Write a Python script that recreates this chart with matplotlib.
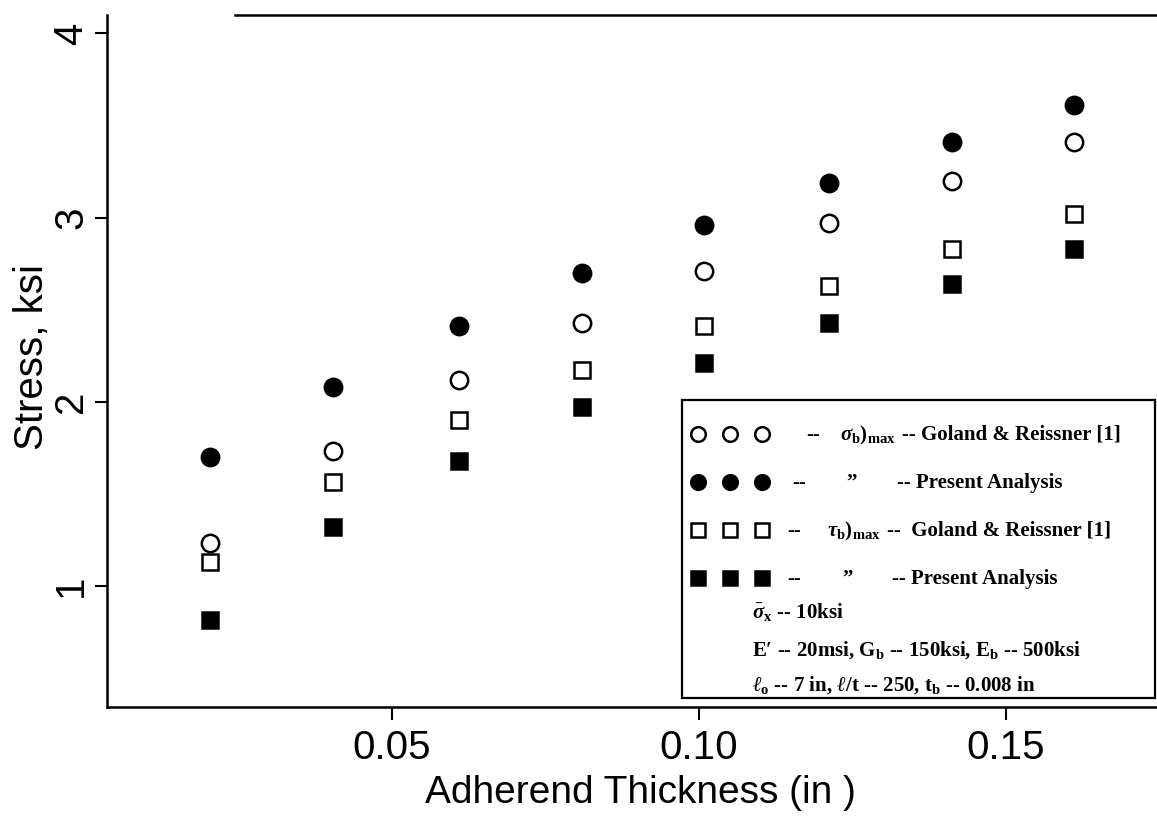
import matplotlib
matplotlib.use("Agg")
import matplotlib.pyplot as plt
from matplotlib.patches import Rectangle

# ---------------- data ----------------
thickness = [0.0204, 0.0404, 0.0609, 0.0809, 0.1008, 0.1212, 0.1412, 0.1611]
sigma_goland = [1.23, 1.73, 2.12, 2.43, 2.71, 2.97, 3.20, 3.41]      # open circles
sigma_present = [1.70, 2.08, 2.41, 2.70, 2.96, 3.19, 3.41, 3.61]     # filled circles
tau_goland = [1.13, 1.565, 1.90, 2.17, 2.41, 2.63, 2.83, 3.02]       # open squares
tau_present = [0.815, 1.32, 1.68, 1.97, 2.21, 2.43, 2.64, 2.83]      # filled squares

x_ticks = [0.05, 0.10, 0.15]
x_tick_labels = ["0.05", "0.10", "0.15"]
y_ticks = [1, 2, 3, 4]
y_tick_labels = ["1", "2", "3", "4"]

x_label = "Adherend Thickness (in )"
y_label = "Stress, ksi"

legend_rows = [
    ["--", r"$\sigma_{\rm b})_{\rm max}$", "-- Goland & Reissner [1]"],
    ["--", "\u201d", "-- Present Analysis"],
    ["--", r"$\tau_{\rm b})_{\rm max}$", "--  Goland & Reissner [1]"],
    ["--", "\u201d", "-- Present Analysis"],
]
legend_notes = [
    r"$\bar{\sigma}_{\rm x}$ -- 10ksi",
    "E\u2032 -- 20msi, G$_{\\rm b}$ -- 150ksi, E$_{\\rm b}$ -- 500ksi",
    r"$\ell_{\rm o}$ -- 7 in, $\ell$/t -- 250, t$_{\rm b}$ -- 0.008 in",
]

# ---------------- style ----------------
plt.rcParams["mathtext.fontset"] = "custom"
plt.rcParams["mathtext.rm"] = "Liberation Serif:bold"
plt.rcParams["mathtext.it"] = "Liberation Serif:italic:bold"
plt.rcParams["mathtext.bf"] = "Liberation Serif:bold"

W, H = 1157, 819
fig = plt.figure(figsize=(W / 100, H / 100), dpi=100)
fig.patch.set_facecolor("white")

def fx(px):
    return px / W

def fy(py):
    return 1 - py / H

ax = fig.add_axes([fx(107), fy(707), fx(1157) - fx(107), fy(15) - fy(707)])
ax.set_xlim(0.00358, 0.1746)
ax.set_ylim(0.342, 4.10)

ms = 12.5
mew = 1.8
ax.plot(thickness, sigma_present, "o", ms=ms, mfc="black", mec="black", mew=mew, ls="none", clip_on=False)
ax.plot(thickness, sigma_goland, "o", ms=ms, mfc="white", mec="black", mew=mew, ls="none", clip_on=False)
ax.plot(thickness, tau_goland, "s", ms=ms - 0.5, mfc="white", mec="black", mew=mew, ls="none", clip_on=False)
ax.plot(thickness, tau_present, "s", ms=ms - 0.5, mfc="black", mec="black", mew=mew, ls="none", clip_on=False)

for s in ["left", "bottom", "top"]:
    ax.spines[s].set_linewidth(1.8)
ax.spines["right"].set_visible(False)
ax.spines["top"].set_bounds(0.0245, 0.1746)

ax.set_xticks(x_ticks)
ax.set_xticklabels(x_tick_labels)
ax.set_yticks(y_ticks)
ax.set_yticklabels(y_tick_labels, rotation=90, va="center")
ax.tick_params(axis="both", direction="out", length=9, width=1.5, color="black")
ax.tick_params(axis="x", pad=7)
ax.tick_params(axis="y", pad=3)
for lab in ax.get_xticklabels() + ax.get_yticklabels():
    lab.set_fontfamily("Liberation Sans")
    lab.set_fontsize(29)

ax.set_xlabel(x_label, fontfamily="Liberation Sans", fontsize=28)
ax.set_ylabel(y_label, fontfamily="Liberation Sans", fontsize=29)
ax.xaxis.label.set_va("center")
ax.yaxis.label.set_va("center")
ax.xaxis.set_label_coords((640 - 107) / 1050, -(793 - 707) / 692)
ax.yaxis.set_label_coords((32 - 107) / 1050, (707 - 357) / 692)

# ---------------- legend box ----------------
box = Rectangle((fx(682), fy(698)), fx(1155) - fx(682), fy(400) - fy(698),
                transform=fig.transFigure, facecolor="white", edgecolor="black",
                linewidth=1.6, zorder=10, clip_on=False)
fig.add_artist(box)

row_y = [434, 482, 530, 578]
marker_x = [698, 730, 762]
styles = [
    dict(marker="o", mfc="white"),
    dict(marker="o", mfc="black"),
    dict(marker="s", mfc="white"),
    dict(marker="s", mfc="black"),
]
for ry, st in zip(row_y, styles):
    ln = plt.Line2D([fx(mx) for mx in marker_x], [fy(ry)] * 3, transform=fig.transFigure,
                    ls="none", marker=st["marker"], ms=10.5 if st["marker"] == "o" else 10,
                    mfc=st["mfc"], mec="black", mew=1.8, zorder=11)
    fig.add_artist(ln)

tfont = dict(family="Liberation Serif", weight="bold", size=15)
piece_x = [
    [806, 840, 902],
    [792, 846, 897],
    [787, 827, 887],
    [787, 842, 892],
]
for ry, row, xs in zip(row_y, legend_rows, piece_x):
    for txt, px in zip(row, xs):
        fig.text(fx(px), fy(ry + 6), txt, ha="left", va="baseline", zorder=12, **tfont)

note_y = [613, 650, 685]
nfont = dict(family="Liberation Serif", weight="bold", size=15)
for ny, txt in zip(note_y, legend_notes):
    fig.text(fx(752), fy(ny + 6), txt, ha="left", va="baseline", zorder=12, **nfont)

fig.savefig("out.png", dpi=100, facecolor="white")
